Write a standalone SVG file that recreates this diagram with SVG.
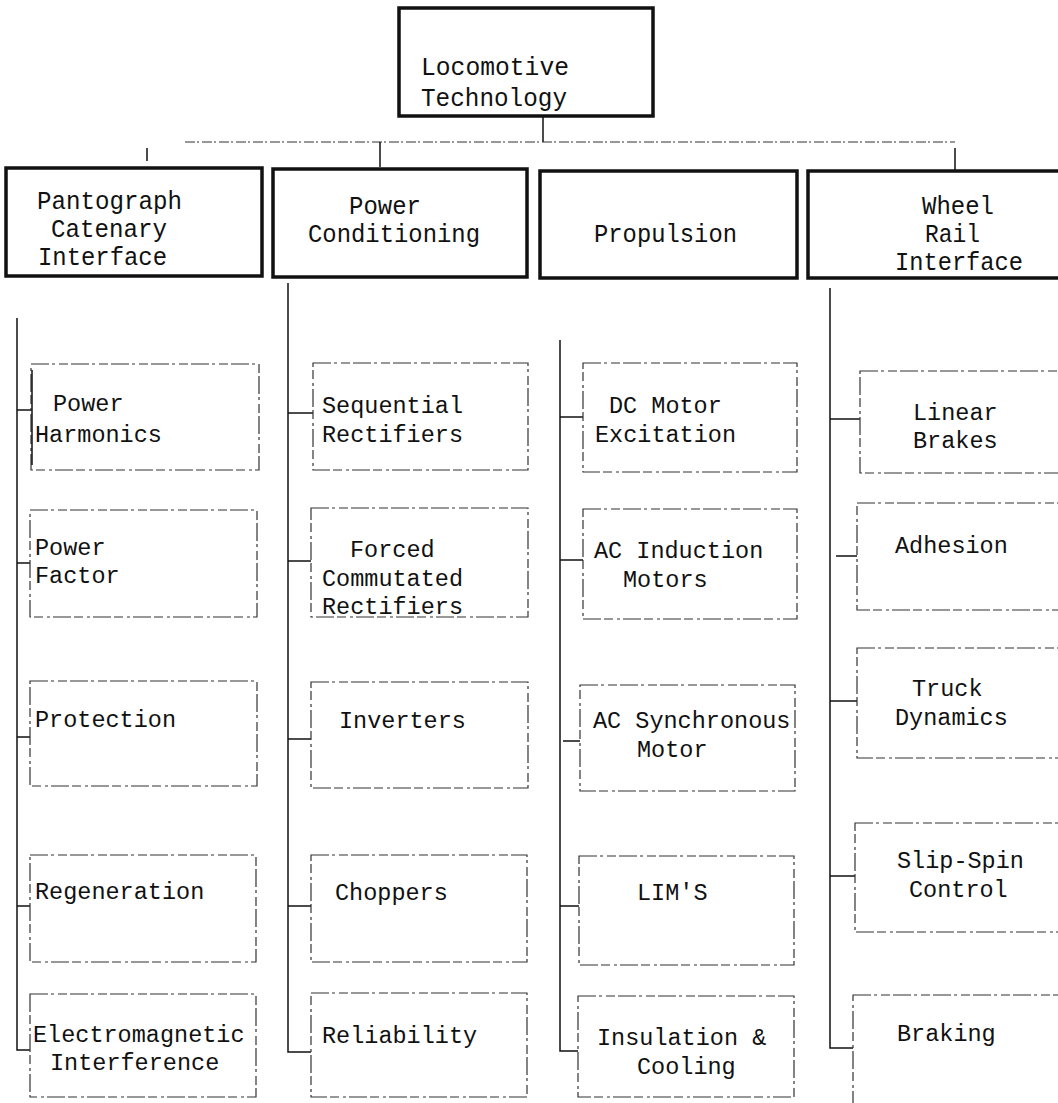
<svg xmlns="http://www.w3.org/2000/svg" width="1058" height="1103" viewBox="0 0 1058 1103">
<style>
.bg{fill:#fff}
.thick{fill:none;stroke:#111;stroke-width:3.5}
.thin{fill:none;stroke:#333;stroke-width:1.2;stroke-dasharray:18 3 3 4 9 3}
.conn{fill:none;stroke:#111;stroke-width:1.5}
.dash{fill:none;stroke:#333;stroke-width:1.2;stroke-dasharray:10 2 2 3}
text{font-family:"Liberation Mono","Courier New",monospace;fill:#111}
.t1{font-size:26px}
.t2{font-size:23.5px}
</style>
<rect class="bg" x="0" y="0" width="1058" height="1103"/>

<g id="connectors">
  <line class="conn" x1="543" y1="117" x2="543" y2="142"/>
  <line class="dash" x1="185" y1="142" x2="955" y2="142"/>
  <line class="conn" x1="380" y1="142" x2="380" y2="167"/>
  <line class="conn" x1="955" y1="148" x2="955" y2="170"/>
  <line class="conn" x1="147" y1="148" x2="147" y2="161"/>
  <!-- column 1 -->
  <polyline class="conn" points="17,318 17,1050 30,1050"/>
  <line class="conn" x1="17" y1="410" x2="31" y2="410"/>
  <line class="conn" x1="17" y1="563" x2="30" y2="563"/>
  <line class="conn" x1="17" y1="737" x2="30" y2="737"/>
  <line class="conn" x1="17" y1="906" x2="30" y2="906"/>
  <!-- column 2 -->
  <polyline class="conn" points="288,283 288,1052 311,1052"/>
  <line class="conn" x1="288" y1="413" x2="313" y2="413"/>
  <line class="conn" x1="288" y1="561" x2="311" y2="561"/>
  <line class="conn" x1="288" y1="739" x2="311" y2="739"/>
  <line class="conn" x1="288" y1="906" x2="311" y2="906"/>
  <!-- column 3 -->
  <polyline class="conn" points="560,340 560,1051 578,1051"/>
  <line class="conn" x1="560" y1="417" x2="583" y2="417"/>
  <line class="conn" x1="560" y1="560" x2="583" y2="560"/>
  <line class="conn" x1="563" y1="741" x2="580" y2="741"/>
  <line class="conn" x1="560" y1="906" x2="579" y2="906"/>
  <!-- column 4 -->
  <polyline class="conn" points="830,288 830,1048 853,1048"/>
  <line class="conn" x1="830" y1="419" x2="860" y2="419"/>
  <line class="conn" x1="836" y1="556" x2="857" y2="556"/>
  <line class="conn" x1="830" y1="701" x2="857" y2="701"/>
  <line class="conn" x1="830" y1="876" x2="855" y2="876"/>
</g>

<g id="root">
  <rect class="thick" x="399" y="8" width="254" height="108"/>
  <text class="t1" x="421" y="75" textLength="148" lengthAdjust="spacingAndGlyphs">Locomotive</text>
  <text class="t1" x="421" y="106" textLength="146" lengthAdjust="spacingAndGlyphs">Technology</text>
</g>

<g id="pantograph">
  <rect class="thick" x="6" y="168" width="256" height="108"/>
  <text class="t1" x="37" y="209" textLength="145" lengthAdjust="spacingAndGlyphs">Pantograph</text>
  <text class="t1" x="51" y="237" textLength="116" lengthAdjust="spacingAndGlyphs">Catenary</text>
  <text class="t1" x="38" y="265" textLength="129" lengthAdjust="spacingAndGlyphs">Interface</text>
</g>
<g id="power-conditioning">
  <rect class="thick" x="273" y="169" width="254" height="108"/>
  <text class="t1" x="349" y="214" textLength="72" lengthAdjust="spacingAndGlyphs">Power</text>
  <text class="t1" x="308" y="242" textLength="172" lengthAdjust="spacingAndGlyphs">Conditioning</text>
</g>
<g id="propulsion">
  <rect class="thick" x="540" y="171" width="257" height="107"/>
  <text class="t1" x="594" y="242" textLength="143" lengthAdjust="spacingAndGlyphs">Propulsion</text>
</g>
<g id="wheel-rail">
  <rect class="thick" x="808" y="171" width="252" height="107"/>
  <text class="t1" x="922" y="214" textLength="72" lengthAdjust="spacingAndGlyphs">Wheel</text>
  <text class="t1" x="925" y="242" textLength="55" lengthAdjust="spacingAndGlyphs">Rail</text>
  <text class="t1" x="895" y="270" textLength="128" lengthAdjust="spacingAndGlyphs">Interface</text>
</g>

<!-- column 1 -->
<g id="power-harmonics">
  <rect class="thin" x="31" y="364" width="228" height="106"/>
  <line class="conn" x1="32" y1="370" x2="32" y2="465"/>
  <text class="t2" x="53" y="411">Power</text>
  <text class="t2" x="35" y="442">Harmonics</text>
</g>
<g id="power-factor">
  <rect class="thin" x="30" y="510" width="227" height="107"/>
  <text class="t2" x="35" y="555">Power</text>
  <text class="t2" x="35" y="583">Factor</text>
</g>
<g id="protection">
  <rect class="thin" x="30" y="681" width="227" height="105"/>
  <text class="t2" x="35" y="727">Protection</text>
</g>
<g id="regeneration">
  <rect class="thin" x="30" y="855" width="226" height="107"/>
  <text class="t2" x="35" y="899">Regeneration</text>
</g>
<g id="emi">
  <rect class="thin" x="30" y="994" width="226" height="103"/>
  <text class="t2" x="33" y="1042">Electromagnetic</text>
  <text class="t2" x="50" y="1070">Interference</text>
</g>

<!-- column 2 -->
<g id="sequential-rectifiers">
  <rect class="thin" x="313" y="363" width="215" height="107"/>
  <text class="t2" x="322" y="413">Sequential</text>
  <text class="t2" x="322" y="442">Rectifiers</text>
</g>
<g id="forced-commutated-rectifiers">
  <rect class="thin" x="311" y="508" width="217" height="109"/>
  <text class="t2" x="350" y="557">Forced</text>
  <text class="t2" x="322" y="586">Commutated</text>
  <text class="t2" x="322" y="614">Rectifiers</text>
</g>
<g id="inverters">
  <rect class="thin" x="311" y="682" width="217" height="106"/>
  <text class="t2" x="339" y="728">Inverters</text>
</g>
<g id="choppers">
  <rect class="thin" x="311" y="855" width="216" height="107"/>
  <text class="t2" x="335" y="900">Choppers</text>
</g>
<g id="reliability">
  <rect class="thin" x="311" y="993" width="216" height="104"/>
  <text class="t2" x="322" y="1043">Reliability</text>
</g>

<!-- column 3 -->
<g id="dc-motor-excitation">
  <rect class="thin" x="583" y="363" width="214" height="109"/>
  <text class="t2" x="609" y="413">DC Motor</text>
  <text class="t2" x="595" y="442">Excitation</text>
</g>
<g id="ac-induction-motors">
  <rect class="thin" x="583" y="509" width="214" height="110"/>
  <text class="t2" x="594" y="558">AC Induction</text>
  <text class="t2" x="623" y="587">Motors</text>
</g>
<g id="ac-synchronous-motor">
  <rect class="thin" x="580" y="685" width="215" height="106"/>
  <text class="t2" x="593" y="728">AC Synchronous</text>
  <text class="t2" x="637" y="757">Motor</text>
</g>
<g id="lims">
  <rect class="thin" x="579" y="856" width="215" height="109"/>
  <text class="t2" x="637" y="900">LIM'S</text>
</g>
<g id="insulation-cooling">
  <rect class="thin" x="578" y="996" width="216" height="101"/>
  <text class="t2" x="597" y="1045">Insulation &amp;</text>
  <text class="t2" x="637" y="1074">Cooling</text>
</g>

<!-- column 4 -->
<g id="linear-brakes">
  <rect class="thin" x="860" y="371" width="210" height="102"/>
  <text class="t2" x="913" y="420">Linear</text>
  <text class="t2" x="913" y="448">Brakes</text>
</g>
<g id="adhesion">
  <rect class="thin" x="857" y="503" width="213" height="107"/>
  <text class="t2" x="895" y="553">Adhesion</text>
</g>
<g id="truck-dynamics">
  <rect class="thin" x="857" y="648" width="213" height="110"/>
  <text class="t2" x="912" y="696">Truck</text>
  <text class="t2" x="895" y="725">Dynamics</text>
</g>
<g id="slip-spin-control">
  <rect class="thin" x="855" y="823" width="215" height="109"/>
  <text class="t2" x="897" y="868">Slip-Spin</text>
  <text class="t2" x="909" y="897">Control</text>
</g>
<g id="braking">
  <rect class="thin" x="853" y="995" width="217" height="120"/>
  <text class="t2" x="897" y="1041">Braking</text>
</g>
</svg>
